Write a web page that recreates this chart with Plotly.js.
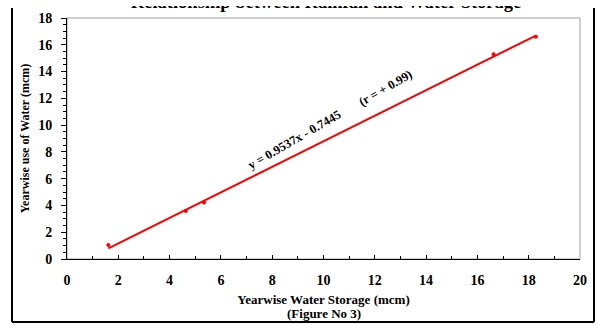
<!DOCTYPE html>
<html>
<head>
<meta charset="utf-8">
<script src="https://cdn.plot.ly/plotly-3.0.1.min.js"></script>
<style>html,body{margin:0;padding:0;background:#fff;}#chart{width:598px;height:325px;}</style>
</head>
<body>
<div id="chart"></div>
<script>
// Data
const storage = [1.61, 4.63, 5.34, 16.63, 18.28];   // Yearwise Water Storage (mcm)
const waterUse = [1.05, 3.58, 4.22, 15.3, 16.6];    // Yearwise use of Water (mcm)
const slope = 0.9537;
const intercept = -0.7445;
const eqText = "y = 0.9537x - 0.7445";
const rText = "(r = + 0.99)";
const titleText = "Relationship between Rainfall and Water Storage";
const xTitle = "Yearwise Water Storage (mcm)";
const figText = "(Figure No 3)";
const yTitle = "Yearwise use of Water (mcm)";

const xmin = Math.min(...storage), xmax = Math.max(...storage);
const trendX = [xmin, xmax];
const trendY = trendX.map(x => slope * x + intercept);

const F = "Liberation Serif, Times New Roman, serif";

const traces = [
  {x: trendX, y: trendY, mode: 'lines', line: {color: '#ff0000', width: 2}, hoverinfo: 'skip'},
  {x: storage, y: waterUse, mode: 'markers', marker: {color: '#ff0000', size: 4}},
  // chart title (its top is cropped off in the reference) on a hidden full-height axis
  {x: [10.1], y: [255.5], yaxis: 'y2', mode: 'text', text: ['<b>' + titleText + '</b>'], cliponaxis: false,
   textposition: 'middle center', textfont: {family: F, size: 18.5, color: '#000'}, hoverinfo: 'skip'}
];

const layout = {
  width: 598, height: 325,
  margin: {l: 67, r: 18, t: 0, b: 66},
  paper_bgcolor: '#fff', plot_bgcolor: 'rgba(0,0,0,0)',
  showlegend: false,
  font: {family: F, color: '#000'},
  xaxis: {
    range: [0, 20], dtick: 2, tick0: 0, showgrid: false, zeroline: false,
    showline: true, linecolor: '#000', linewidth: 1,
    ticks: 'inside', ticklen: 4, tickcolor: '#000',
    minor: {dtick: 1, ticks: 'inside', ticklen: 3, tickcolor: '#000'},
    tickfont: {family: F, size: 14, color: '#000', weight: 700},
    ticklabelstandoff: 8,
    title: {text: '<b>' + xTitle + '</b>', font: {family: F, size: 13}, standoff: 8},
    fixedrange: true
  },
  yaxis: {
    domain: [0, 241 / 259],
    range: [0, 18], dtick: 2, tick0: 0, showgrid: false, zeroline: false,
    showline: true, linecolor: '#000', linewidth: 1,
    ticks: 'outside', ticklen: 5, tickcolor: '#000',
    minor: {dtick: 0.5, ticks: 'outside', ticklen: 3, tickcolor: '#000'},
    tickfont: {family: F, size: 14, color: '#000', weight: 700},
    ticklabelstandoff: 6,
    title: {text: '<b>' + yTitle + '</b>', font: {family: F, size: 12}, standoff: 6},
    fixedrange: true
  },
  yaxis2: {
    domain: [0, 1], range: [0, 259], anchor: 'x', visible: false, fixedrange: true
  },
  shapes: [
    {type: 'rect', xref: 'x domain', yref: 'y domain', x0: 0, x1: 1, y0: 0, y1: 1,
     line: {color: '#a0a0a0', width: 1}, layer: 'below'},
    // white band: the top of the reference image is cropped away
    {type: 'rect', xref: 'paper', yref: 'paper', x0: -0.2, x1: 1.2, y0: 0.9768, y1: 1.1,
     fillcolor: '#fff', line: {width: 0}, layer: 'above'},
    {type: 'line', xref: 'paper', yref: 'paper', x0: -0.1072, x1: -0.1072, y0: -0.2432, y1: 0.9691,
     line: {color: '#000', width: 2}},
    {type: 'line', xref: 'paper', yref: 'paper', x0: 1.0273, x1: 1.0273, y0: -0.2432, y1: 0.9691,
     line: {color: '#000', width: 2}},
    {type: 'line', xref: 'paper', yref: 'paper', x0: -0.1072, x1: 1.0273, y0: -0.2432, y1: -0.2432,
     line: {color: '#000', width: 2}}
  ],
  annotations: [
    {text: '<b>' + figText + '</b>', xref: 'paper', yref: 'paper', x: 0.5, y: -0.2085,
     xanchor: 'center', yanchor: 'middle', showarrow: false, font: {family: F, size: 13}},
    {text: '<b>' + eqText + '</b>', xref: 'x', yref: 'y', x: 8.85, y: 8.9, textangle: -30,
     showarrow: false, font: {family: F, size: 12.5}},
    {text: '<b>' + rText + '</b>', xref: 'x', yref: 'y', x: 12.43, y: 12.77, textangle: -30,
     showarrow: false, font: {family: F, size: 12.5}}
  ]
};

Plotly.newPlot('chart', traces, layout, {displayModeBar: false, staticPlot: true});
</script>
</body>
</html>
